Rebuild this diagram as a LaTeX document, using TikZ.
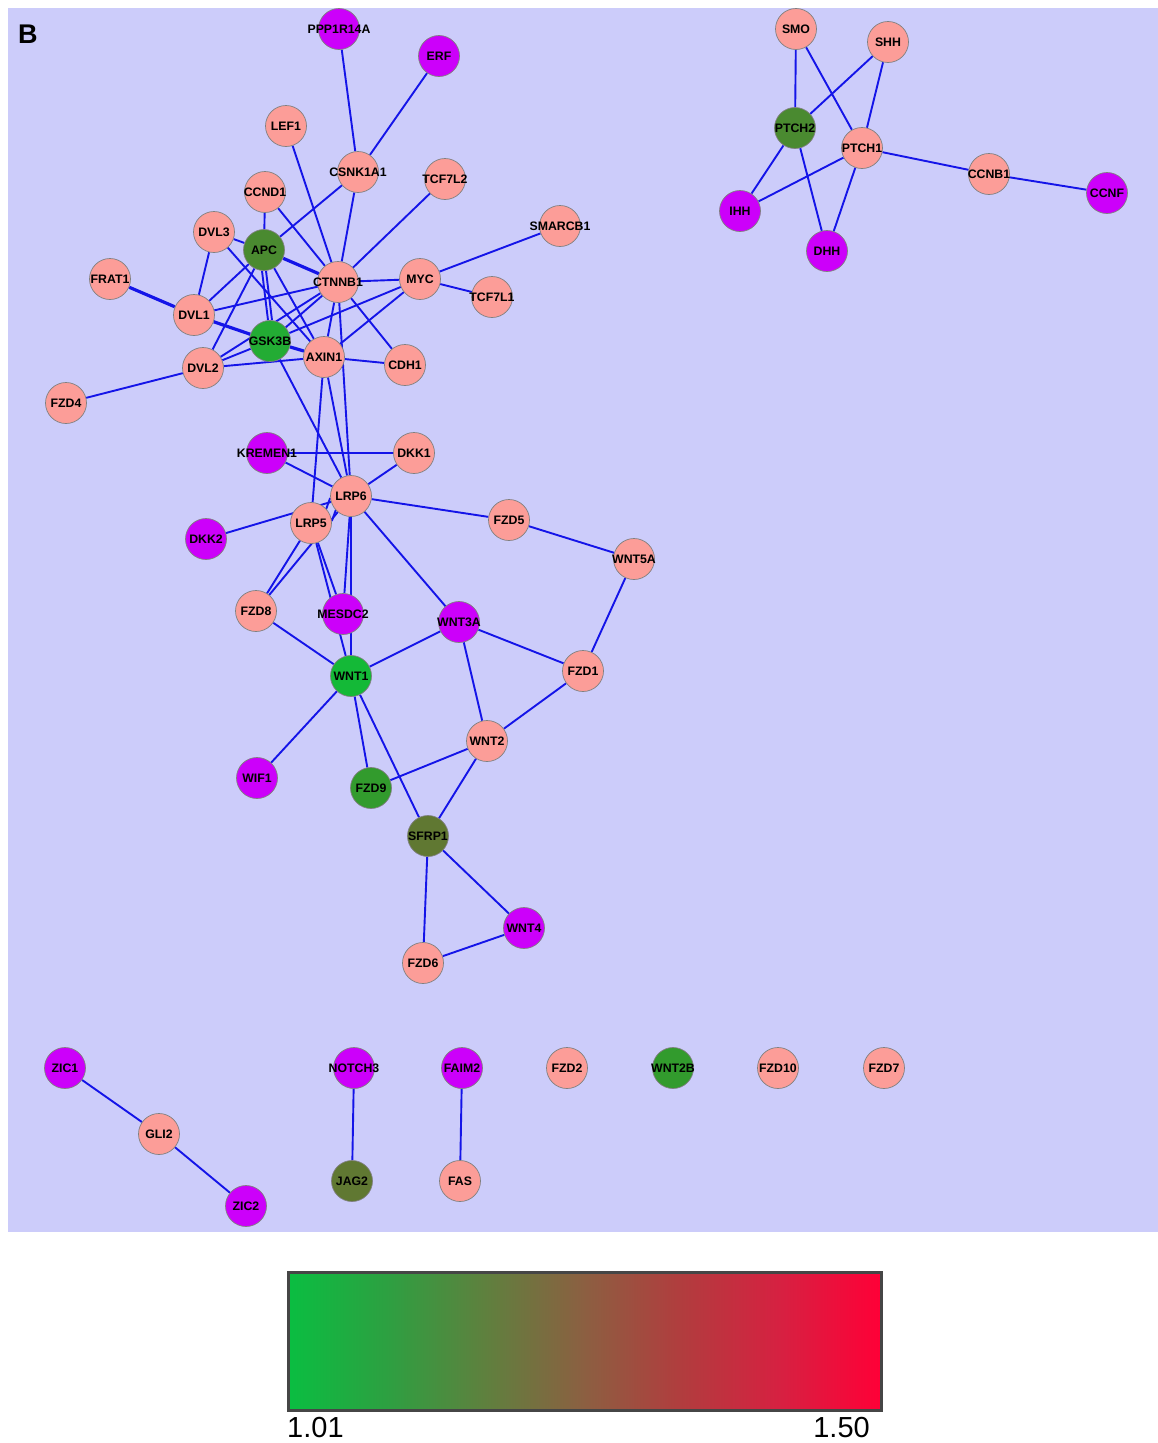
\documentclass[tikz,border=0pt]{standalone}
\usepackage{fontspec}
\setmainfont{Liberation Sans}
\pgfdeclarelayer{back}
\pgfdeclarelayer{edges}
\pgfsetlayers{back,edges,main}
\definecolor{bgc}{RGB}{204,204,250}
\definecolor{pinkN}{RGB}{252,157,152}
\definecolor{magN}{RGB}{204,0,250}
\definecolor{dkgN}{RGB}{74,138,48}
\definecolor{gskN}{RGB}{35,172,52}
\definecolor{brgN}{RGB}{20,185,55}
\definecolor{midgN}{RGB}{50,155,45}
\definecolor{oliveN}{RGB}{96,120,50}
\definecolor{edgeC}{RGB}{20,20,232}
\definecolor{cb0}{RGB}{10,190,65}
\definecolor{cb1}{RGB}{45,160,65}
\definecolor{cb2}{RGB}{95,128,62}
\definecolor{cb3}{RGB}{140,95,65}
\definecolor{cb4}{RGB}{178,60,62}
\definecolor{cb5}{RGB}{215,32,65}
\definecolor{cb6}{RGB}{255,0,55}
\tikzset{
  gnode/.style={circle, draw={rgb,255:red,128;green,128;blue,128}, line width=0.7pt, minimum size=41pt, inner sep=0pt},
  glabel/.style={font=\bfseries\fontsize{12.3}{13}\selectfont, inner sep=0pt, text=black},
  pk/.style={fill=pinkN}, mg/.style={fill=magN}, dg/.style={fill=dkgN},
  gk/.style={fill=gskN}, bg/.style={fill=brgN}, mgr/.style={fill=midgN}, ol/.style={fill=oliveN},
  ed/.style={draw=edgeC, line width=1.9pt},
  edd/.style={draw=edgeC, line width=3.2pt}
}
\newcommand\gene[4]{\node[gnode,#4,label={[glabel]center:#1}] (#1) at (#2,#3) {};}
\begin{document}
\begin{tikzpicture}[x=1pt,y=-1pt]
\useasboundingbox (0,0) rectangle (1158,1443);
\begin{pgfonlayer}{back}
\fill[bgc] (8,8) rectangle (1158,1232);
\end{pgfonlayer}
\node[font=\bfseries\fontsize{27}{29}\selectfont, anchor=base west, inner sep=0pt] (Blabel) at (18,43) {B};
% main cluster
\gene{PPP1R14A}{339}{29}{mg}
\gene{ERF}{439}{56}{mg}
\gene{LEF1}{286}{126}{pk}
\gene{CSNK1A1}{358}{172}{pk}
\gene{TCF7L2}{445}{179}{pk}
\gene{CCND1}{265}{192}{pk}
\gene{SMARCB1}{560}{226}{pk}
\gene{DVL3}{214}{232}{pk}
\gene{APC}{264}{250}{dg}
\gene{CTNNB1}{338}{282}{pk}
\gene{MYC}{420}{279}{pk}
\gene{TCF7L1}{492}{297}{pk}
\gene{FRAT1}{110}{279}{pk}
\gene{DVL1}{194}{315}{pk}
\gene{GSK3B}{270}{341}{gk}
\gene{AXIN1}{324}{357}{pk}
\gene{CDH1}{405}{365}{pk}
\gene{DVL2}{203}{368}{pk}
\gene{FZD4}{66}{403}{pk}
\gene{KREMEN1}{267}{453}{mg}
\gene{DKK1}{414}{453}{pk}
\gene{LRP6}{351}{496}{pk}
\gene{LRP5}{311}{523}{pk}
\gene{FZD5}{509}{520}{pk}
\gene{DKK2}{206}{539}{mg}
\gene{WNT5A}{634}{559}{pk}
\gene{FZD8}{256}{611}{pk}
\gene{MESDC2}{343}{614}{mg}
\gene{WNT3A}{459}{622}{mg}
\gene{FZD1}{583}{671}{pk}
\gene{WNT1}{351}{676}{bg}
\gene{WNT2}{487}{741}{pk}
\gene{WIF1}{257}{778}{mg}
\gene{FZD9}{371}{788}{mgr}
\gene{SFRP1}{428}{836}{ol}
\gene{WNT4}{524}{928}{mg}
\gene{FZD6}{423}{963}{pk}
% hedgehog cluster
\gene{SMO}{796}{29}{pk}
\gene{SHH}{888}{42}{pk}
\gene{PTCH2}{795}{128}{dg}
\gene{PTCH1}{862}{148}{pk}
\gene{CCNB1}{989}{174}{pk}
\gene{CCNF}{1107}{193}{mg}
\gene{IHH}{740}{211}{mg}
\gene{DHH}{827}{251}{mg}
% bottom
\gene{ZIC1}{65}{1068}{mg}
\gene{NOTCH3}{354}{1068}{mg}
\gene{FAIM2}{462}{1068}{mg}
\gene{FZD2}{567}{1068}{pk}
\gene{WNT2B}{673}{1068}{mgr}
\gene{FZD10}{778}{1068}{pk}
\gene{FZD7}{884}{1068}{pk}
\gene{GLI2}{159}{1134}{pk}
\gene{JAG2}{352}{1181}{ol}
\gene{FAS}{460}{1181}{pk}
\gene{ZIC2}{246}{1206}{mg}
\begin{pgfonlayer}{edges}
\foreach \a/\b in {PPP1R14A/CSNK1A1, ERF/CSNK1A1, LEF1/CTNNB1, CSNK1A1/CTNNB1, CSNK1A1/APC,
  TCF7L2/CTNNB1, CCND1/APC, CCND1/CTNNB1, SMARCB1/MYC, MYC/TCF7L1, MYC/CTNNB1,
  DVL3/APC, DVL3/DVL1, DVL3/AXIN1, APC/DVL1, APC/DVL2, APC/AXIN1,
  CTNNB1/DVL1, CTNNB1/GSK3B, DVL2/CTNNB1, DVL2/GSK3B, GSK3B/MYC, AXIN1/MYC, AXIN1/CTNNB1,
  AXIN1/CDH1, CTNNB1/CDH1, DVL2/AXIN1, DVL2/FZD4,
  GSK3B/LRP6, AXIN1/LRP5, AXIN1/LRP6, CTNNB1/LRP6,
  KREMEN1/DKK1, KREMEN1/LRP6, DKK1/LRP6, LRP6/FZD5, FZD5/WNT5A, WNT5A/FZD1,
  DKK2/LRP6, LRP5/FZD8, LRP6/FZD8, LRP5/MESDC2, LRP5/WNT1, LRP6/MESDC2, LRP6/WNT1,
  LRP6/WNT3A, FZD8/WNT1, WNT1/WNT3A, WNT3A/FZD1, WNT3A/WNT2, WNT2/FZD1,
  WNT1/WIF1, WNT1/FZD9, WNT1/SFRP1, WNT2/FZD9, WNT2/SFRP1, SFRP1/FZD6, SFRP1/WNT4, FZD6/WNT4,
  SMO/PTCH2, SMO/PTCH1, SHH/PTCH2, SHH/PTCH1, PTCH2/IHH, PTCH2/DHH, PTCH1/IHH, PTCH1/DHH,
  PTCH1/CCNB1, CCNB1/CCNF, ZIC1/GLI2, GLI2/ZIC2, NOTCH3/JAG2, FAIM2/FAS}
  {\draw[ed] (\a) -- (\b);}
\foreach \a/\b in {FRAT1/DVL1, DVL1/GSK3B, GSK3B/AXIN1, APC/CTNNB1}
  {\draw[edd] (\a) -- (\b);}
\draw[ed] ([xshift=-2pt]APC.south) -- ([xshift=-2pt]GSK3B.north);
\draw[ed] ([xshift=2pt]APC.south) -- ([xshift=2pt]GSK3B.north);
\draw[ed] ([yshift=-2pt]LRP5.north east) -- ([yshift=-2pt]LRP6.west);
\draw[ed] ([yshift=2pt]LRP5.east) -- ([yshift=2pt]LRP6.south west);
\end{pgfonlayer}
% colour bar
\coordinate (cbA) at (288,1272);
\coordinate (cbB) at (881,1410);
\foreach \i/\l/\r in {0/cb0/cb1, 1/cb1/cb2, 2/cb2/cb3, 3/cb3/cb4, 4/cb4/cb5, 5/cb5/cb6}
  {\shade[left color=\l, right color=\r] (288+\i*98.83,1272) rectangle (288+\i*98.83+98.83,1410);}
\draw[line width=3pt, draw={rgb,255:red,70;green,70;blue,70}] (cbA) rectangle (cbB);
\node[font=\fontsize{29}{30}\selectfont, anchor=base west, inner sep=0pt] (lo) at (287,1437) {1.01};
\node[font=\fontsize{29}{30}\selectfont, anchor=base east, inner sep=0pt] (hi) at (870,1437) {1.50};
\end{tikzpicture}
\end{document}
